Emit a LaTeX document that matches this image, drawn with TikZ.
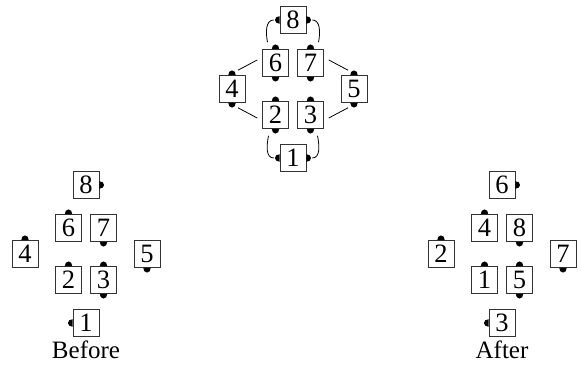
\documentclass[tikz,border=0pt]{standalone}
\usepackage{fontspec}
\setmainfont{Liberation Serif}
\usetikzlibrary{calc}
\newcommand\portN[1]{\fill ([xshift=-3.8pt]#1.north) arc[start angle=180,end angle=0,x radius=3.8pt,y radius=4.8pt] -- cycle;}
\newcommand\portS[1]{\fill ([xshift=3.8pt]#1.south) arc[start angle=0,end angle=-180,x radius=3.8pt,y radius=4.8pt] -- cycle;}
\newcommand\portW[1]{\fill ([yshift=3.8pt]#1.west) arc[start angle=90,end angle=270,x radius=4.8pt,y radius=3.8pt] -- cycle;}
\newcommand\portE[1]{\fill ([yshift=-3.8pt]#1.east) arc[start angle=-90,end angle=90,x radius=4.8pt,y radius=3.8pt] -- cycle;}
\begin{document}
\begin{tikzpicture}[x=1pt,y=1pt,
  box/.style={draw=black!80, line width=0.6pt, fill=white, minimum width=26pt, minimum height=27pt, inner sep=0pt, font=\fontsize{26.5}{26.5}\selectfont},
  conn/.style={line width=0.8pt},
  lbl/.style={anchor=base, inner sep=0pt, font=\fontsize{25}{25}\selectfont}]
\useasboundingbox (0,0) rectangle (581,371);
% ---- top graph ----
\node[box] (t8) at (293,351) {8};
\node[box] (t6) at (275.5,308) {6};
\node[box] (t7) at (310.5,308) {7};
\node[box] (t4) at (232,282) {4};
\node[box] (t5) at (354,282) {5};
\node[box] (t2) at (275.5,256) {2};
\node[box] (t3) at (310.5,256) {3};
\node[box] (t1) at (293,213) {1};
\portW{t8}\portE{t8}
\portN{t6}\portS{t6}\portN{t7}\portS{t7}
\portN{t4}\portS{t4}\portN{t5}\portS{t5}
\portN{t2}\portS{t2}\portN{t3}\portS{t3}
\portW{t1}\portE{t1}
\draw[conn] ($(t8.west)+(-6,0)$) .. controls +(-8,0) and +(-2,10) .. ($(t6.north)+(-8,7)$);
\draw[conn] ($(t8.east)+(6,0)$) .. controls +(8,0) and +(2,10) .. ($(t7.north)+(8,7)$);
\draw[conn] ($(t2.south)+(-7,-7)$) .. controls +(-2,-10) and +(-8,0) .. ($(t1.west)+(-6,0)$);
\draw[conn] ($(t3.south)+(7,-7)$) .. controls +(2,-10) and +(8,0) .. ($(t1.east)+(6,0)$);
\draw[conn] ($(t4.north)+(6,5)$) -- ($(t6.west)+(-5,3)$);
\draw[conn] ($(t4.south)+(6,-5)$) -- ($(t2.west)+(-5,-3)$);
\draw[conn] ($(t5.north)+(-6,5)$) -- ($(t7.east)+(5,3)$);
\draw[conn] ($(t5.south)+(-6,-5)$) -- ($(t3.east)+(5,-3)$);
% ---- before ----
\node[box] (b8) at (86,186) {8};
\node[box] (b6) at (68.5,143) {6};
\node[box] (b7) at (103.5,143) {7};
\node[box] (b4) at (25,117) {4};
\node[box] (b5) at (147,117) {5};
\node[box] (b2) at (68.5,91) {2};
\node[box] (b3) at (103.5,91) {3};
\node[box] (b1) at (86,48) {1};
\portE{b8}\portN{b6}\portS{b7}\portN{b4}\portS{b5}\portN{b2}\portN{b3}\portS{b3}\portW{b1}
\node[lbl] (before) at (86,12) {Before};
% ---- after ----
\node[box] (a6) at (502,186) {6};
\node[box] (a4) at (484.5,143) {4};
\node[box] (a8) at (519.5,143) {8};
\node[box] (a2) at (441,117) {2};
\node[box] (a7) at (563,117) {7};
\node[box] (a1) at (484.5,91) {1};
\node[box] (a5) at (519.5,91) {5};
\node[box] (a3) at (502,48) {3};
\portE{a6}\portN{a4}\portS{a8}\portN{a2}\portS{a7}\portN{a1}\portN{a5}\portS{a5}\portW{a3}
\node[lbl] (after) at (502,12) {After};
\end{tikzpicture}
\end{document}
